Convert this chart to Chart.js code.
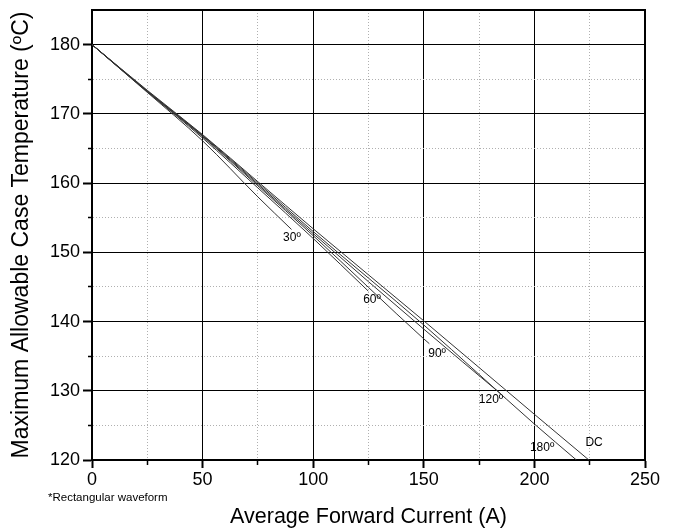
<!DOCTYPE html>
<html>
<head>
<meta charset="utf-8">
<script src="https://cdn.jsdelivr.net/npm/chart.js@4.4.1/dist/chart.umd.min.js"></script>
<style>
html, body { margin: 0; padding: 0; background: #fff; }
#wrap { width: 680px; height: 531px; }
</style>
</head>
<body>
<div id="wrap"><canvas id="chart"></canvas></div>
<script>
// average forward current (A) vs max case temperature (ºC)
const curveNames = ['30º', '60º', '90º', '120º', '180º', 'DC'];

const current30 = [0, 25, 50, 75, 90.2];
const temp30 = [180, 173.1, 166.1, 158.0, 153.3];

const current60 = [0, 25, 50, 75, 100, 124.9];
const temp60 = [180, 173.2, 166.5, 159.3, 152.0, 144.4];

const current90 = [0, 25, 50, 75, 100, 150, 152.5];
const temp90 = [180, 173.2, 166.7, 159.6, 152.4, 137.5, 136.8];

const current120 = [0, 25, 50, 75, 100, 150, 185];
const temp120 = [180, 173.3, 166.8, 159.8, 152.7, 138.9, 129.5];

const current180 = [0, 25, 50, 75, 100, 150, 200, 219];
const temp180 = [180, 173.3, 166.9, 160.0, 153.0, 139.5, 125.2, 120];

const currentDC = [0, 25, 50, 75, 100, 150, 200, 225];
const tempDC = [180, 173.4, 167.0, 160.2, 153.4, 140.1, 126.6, 119.9];

// where each curve name sits (data units)
const labelCurrent = [90.4, 126.6, 156, 180.4, 203.5, 227];
const labelTemp = [152.1, 143.1, 135.3, 128.7, 121.8, 122.5];

const xTicks = [0, 50, 100, 150, 200, 250];
const yTicks = [120, 130, 140, 150, 160, 170, 180];

const allCurrents = [current30, current60, current90, current120, current180, currentDC];
const allTemps = [temp30, temp60, temp90, temp120, temp180, tempDC];

const FONT = "'Liberation Sans', Arial, sans-serif";

function toPoints(xs, ys) {
    return xs.map((x, i) => ({ x: x, y: ys[i] }));
}

const datasets = curveNames.map((name, i) => ({
    label: name,
    data: toPoints(allCurrents[i], allTemps[i]),
    borderColor: '#333',
    borderWidth: 1,
    pointRadius: 0,
    fill: false,
    cubicInterpolationMode: 'monotone'
}));

// frame, curve names and the footnote
const extras = {
    id: 'extras',
    afterDatasetsDraw(chart) {
        const ctx = chart.ctx;
        const area = chart.chartArea;
        const xs = chart.scales.x;
        const ys = chart.scales.y;

        ctx.save();
        ctx.fillStyle = '#000';
        ctx.font = '12px ' + FONT;
        ctx.textAlign = 'center';
        ctx.textBaseline = 'middle';
        curveNames.forEach((name, i) => {
            ctx.fillText(name, xs.getPixelForValue(labelCurrent[i]), ys.getPixelForValue(labelTemp[i]));
        });

        ctx.strokeStyle = '#000';
        ctx.lineWidth = 2;
        ctx.beginPath();
        ctx.moveTo(area.left, area.top);
        ctx.lineTo(area.right, area.top);
        ctx.lineTo(area.right, area.bottom);
        ctx.stroke();

        ctx.font = '11.5px ' + FONT;
        ctx.textAlign = 'left';
        ctx.fillText('*Rectangular waveform', 48, 498);
        ctx.restore();
    }
};

const isMajorX = v => v % 50 === 0;
const isMajorY = v => v % 10 === 0;

new Chart(document.getElementById('chart'), {
    type: 'line',
    data: { datasets: datasets },
    options: {
        responsive: true,
        maintainAspectRatio: false,
        animation: false,
        layout: { padding: { top: 10, right: 35, left: 0, bottom: 0 } },
        plugins: {
            legend: { display: false },
            tooltip: { enabled: false }
        },
        scales: {
            x: {
                type: 'linear',
                min: 0,
                max: 250,
                afterFit(s) { s.height = 71; s.paddingLeft = 0; s.paddingRight = 0; },
                ticks: {
                    stepSize: 25,
                    autoSkip: false,
                    maxRotation: 0,
                    padding: 1,
                    color: '#000',
                    font: { family: FONT, size: 18 },
                    callback: v => xTicks.includes(v) ? v : ''
                },
                grid: {
                    color: ctx => ctx.tick && isMajorX(ctx.tick.value) ? '#000' : '#b0b0b0',
                    lineWidth: 1,
                    tickColor: '#000',
                    tickLength: 8,
                    tickWidth: ctx => ctx.tick && isMajorX(ctx.tick.value) ? 2 : 1.5,
                    tickBorderDash: ctx => ctx.tick && isMajorX(ctx.tick.value) ? [] : [4, 100]
                },
                border: {
                    display: true,
                    color: '#000',
                    width: 2,
                    dash: ctx => ctx.tick && !isMajorX(ctx.tick.value) ? [1, 2] : []
                },
                title: {
                    display: true,
                    text: 'Average Forward Current (A)',
                    color: '#000',
                    font: { family: FONT, size: 21.5 },
                    padding: { top: 0, bottom: 1 }
                }
            },
            y: {
                type: 'linear',
                min: 120,
                max: 185,
                afterFit(s) { s.width = 92; s.paddingTop = 0; s.paddingBottom = 0; },
                ticks: {
                    stepSize: 5,
                    autoSkip: false,
                    padding: 3,
                    color: '#000',
                    font: { family: FONT, size: 18 },
                    // 185 sits on the frame, so no label there
                    callback: v => v > 180 ? null : (yTicks.includes(v) ? v : '')
                },
                grid: {
                    color: ctx => ctx.tick && isMajorY(ctx.tick.value) ? '#000' : '#b0b0b0',
                    lineWidth: 1,
                    tickColor: '#000',
                    tickLength: 9,
                    tickWidth: ctx => ctx.tick && isMajorY(ctx.tick.value) ? 2 : 1.5,
                    tickBorderDash: ctx => ctx.tick && isMajorY(ctx.tick.value) ? [] : [0, 5, 4, 100]
                },
                border: {
                    display: true,
                    color: '#000',
                    width: 2,
                    dash: ctx => ctx.tick && !isMajorY(ctx.tick.value) ? [1, 2] : []
                },
                title: {
                    display: true,
                    text: 'Maximum Allowable Case Temperature (ºC)',
                    color: '#000',
                    font: { family: FONT, size: 23 },
                    padding: { top: 8, bottom: 0 }
                }
            }
        }
    },
    plugins: [extras]
});
</script>
</body>
</html>
